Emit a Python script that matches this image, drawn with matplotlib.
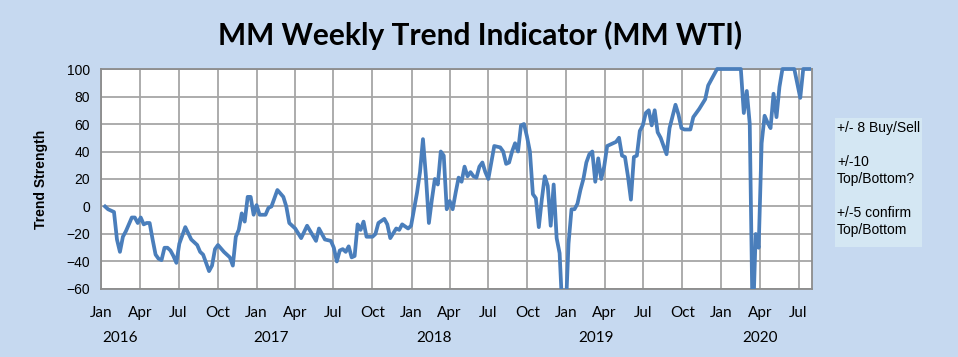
import pandas as pd
import matplotlib
matplotlib.use('Agg')
from matplotlib import pyplot as plt
from matplotlib.patches import Rectangle
from matplotlib.transforms import Bbox, TransformedBbox

# weekly readings: week number since first print, and the indicator value
weeks = [0, 1, 2, 3, 4, 5, 6, 7, 9, 10,
         11, 12, 13, 14, 15, 16, 17, 18, 19, 20,
         21, 22, 23, 24, 25, 27, 29, 31, 32, 33,
         35, 36, 37, 38, 40, 42, 43, 44, 45, 46,
         47, 48, 49, 50, 51, 52, 54, 55, 56, 58,
         60, 61, 62, 64, 66, 68, 71, 72, 74, 76,
         77, 78, 79, 80, 81, 82, 83, 84, 85, 86,
         87, 88, 90, 91, 92, 94, 95, 96, 98, 99,
         100, 102, 103, 105, 106, 107, 108, 109, 110, 111,
         112, 113, 114, 115, 116, 117, 118, 119, 120, 121,
         122, 123, 124, 125, 126, 127, 128, 129, 131, 133,
         134, 135, 136, 137, 138, 139, 140, 141, 142, 143,
         144, 145, 146, 147, 148, 149, 150, 151, 152, 153,
         154, 155, 156, 157, 158, 159, 160, 161, 162, 163,
         164, 165, 166, 167, 168, 169, 170, 172, 173, 174,
         175, 176, 177, 178, 179, 180, 181, 182, 183, 184,
         185, 186, 187, 189, 190, 192, 193, 194, 195, 197,
         198, 200, 202, 203, 204, 205, 206, 214, 215, 216,
         217, 218, 219, 220, 221, 222, 223, 224, 225, 226,
         227, 228, 232, 234, 235, 237]
values = [0, -2, -3, -4, -24, -33, -22, -18, -8, -8,
          -12, -8, -13, -12, -12, -24, -35, -38, -39, -30,
          -30, -32, -36, -41, -27, -15, -24, -28, -33, -35,
          -47, -43, -31, -28, -33, -37, -43, -22, -17, -5,
          -11, 7, 7, -6, 1, -6, -6, -1, 0, 12,
          7, 0, -12, -16, -23, -14, -25, -16, -24, -25,
          -30, -40, -32, -31, -33, -29, -37, -36, -13, -17,
          -11, -22, -22, -20, -12, -9, -13, -23, -16, -17,
          -13, -16, -14, 10, 25, 49, 22, -12, 5, 20,
          16, 40, 37, -2, 4, -2, 10, 21, 18, 29,
          22, 25, 22, 21, 29, 32, 25, 20, 44, 43,
          40, 31, 32, 40, 46, 40, 59, 60, 51, 40,
          9, 6, -15, 5, 22, 15, -14, 16, -23, -34,
          -80, -80, -27, -2, -2, 2, 12, 20, 32, 38,
          40, 18, 35, 20, 29, 44, 45, 47, 50, 37,
          36, 22, 5, 36, 37, 55, 59, 68, 70, 59,
          70, 54, 50, 38, 57, 74, 67, 57, 56, 56,
          65, 71, 78, 88, 92, 96, 100, 100, 68, 84,
          60, -90, -20, -30, 46, 66, 61, 57, 82, 65,
          87, 100, 100, 79, 100, 100]

first_week = pd.Timestamp('2016-01-10')
dates = [first_week + pd.Timedelta(weeks=w) for w in weeks]

quarters = pd.date_range('2016-01-01', '2020-07-01', freq='QS')
month_labels = [d.strftime('%b') for d in quarters]
years = ['2016', '2017', '2018', '2019', '2020']
year_pos = pd.to_datetime(['2016-02-14', '2017-02-04', '2018-02-23', '2019-03-11', '2020-04-02'])
notes = '+/- 8 Buy/Sell\n\n+/-10\nTop/Bottom?\n\n+/-5 confirm\nTop/Bottom'

bg = '#C6D9F0'
fig = plt.figure(figsize=(9.58, 3.57), dpi=100, facecolor=bg)
ax = fig.add_axes([0.1057, 0.1905, 0.7416, 0.6162])
ax.set_facecolor('white')

line, = ax.plot(dates, values, color='#4A7EBB', lw=2.7, solid_joinstyle='round', zorder=3)
line.set_clip_box(TransformedBbox(Bbox([[0, 0], [1, 1.03]]), ax.transAxes))

ax.set_xlim(pd.Timestamp('2016-01-01'), pd.Timestamp('2020-08-01'))
ax.set_ylim(-60, 100)
ax.set_yticks(range(-60, 101, 20))
ax.set_xticks(quarters)
ax.set_xticklabels(month_labels, family='Lato', fontsize=11)
for lab in ax.get_yticklabels():
    lab.set_family('Liberation Sans')
    lab.set_fontsize(10)
ax.tick_params(length=0, pad=8)
ax.tick_params(axis='x', pad=12)
ax.grid(True, color='#A6A6A6', lw=1.3)
ax.set_axisbelow(True)
for s in ax.spines.values():
    s.set_color('#8C8C8C')
    s.set_linewidth(1.3)

for y, d in zip(years, year_pos):
    ax.text(d, -0.223, y, transform=ax.get_xaxis_transform(), ha='center', va='center',
            family='Lato', fontsize=11)

ax.set_ylabel('Trend Strength', family='Liberation Sans', fontweight='bold', fontsize=10, labelpad=13)

fig.text(0.501, 0.90, 'MM Weekly Trend Indicator (MM WTI)', ha='center', va='center',
         family='Lato', fontweight='bold', fontsize=21.5)

fig.patches.append(Rectangle((835 / 958, 1 - 247 / 357), 87 / 958, 129 / 357,
                             transform=fig.transFigure, facecolor='#D4E7F3', edgecolor='none'))
fig.text(837 / 958, 1 - 121 / 357, notes, ha='left', va='top', family='Liberation Sans',
         fontsize=10, linespacing=1.27)

plt.savefig('out.png', dpi=100, facecolor=bg)
